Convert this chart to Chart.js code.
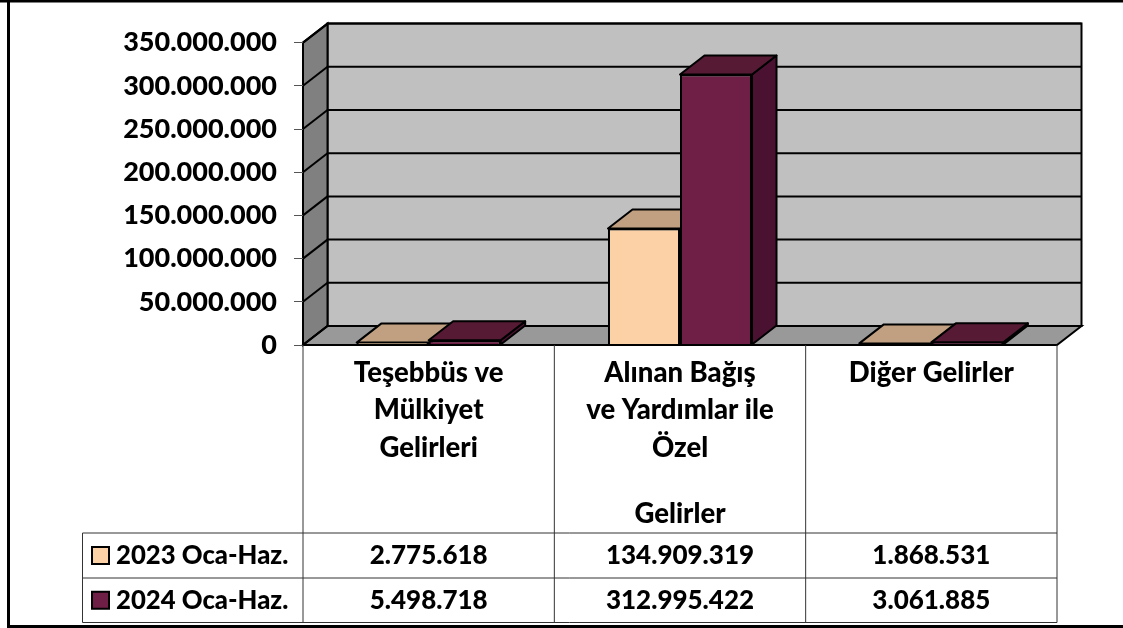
<!DOCTYPE html>
<html lang="tr">
<head>
<meta charset="utf-8">
<title>Gelirler</title>
<script src="https://cdn.jsdelivr.net/npm/chart.js@4"></script>
<style>
  body { margin: 0; background: #fff; }
  canvas { display: block; }
</style>
</head>
<body>
<canvas id="gelirChart" width="1123" height="628"></canvas>
<script>
const categories = [
  ["Teşebbüs ve", "Mülkiyet", "Gelirleri"],
  ["Alınan Bağış", "ve Yardımlar ile", "Özel"],
  ["Diğer Gelirler"]
];
// the second label has one line pushed down to the foot of its cell
const categoryFootLines = ["", "Gelirler", ""];
const seriesNames = ["2023 Oca-Haz.", "2024 Oca-Haz."];
const values2023 = [2775618, 134909319, 1868531];
const values2024 = [5498718, 312995422, 3061885];

const seriesColors = ["#fcd1a5", "#6f1f45"];
const topColors = ["#c0a080", "#561a35"];
const sideColors = ["#a88a6c", "#4a1230"];

// how far the back wall sits from the front of the box
const depthX = 24.5;
const depthY = 19;
const FONT = "Lato, sans-serif";

function poly(c, pts, fill) {
  c.beginPath();
  pts.forEach((p, i) => i ? c.lineTo(p[0], p[1]) : c.moveTo(p[0], p[1]));
  c.closePath();
  if (fill) { c.fillStyle = fill; c.fill(); }
  c.stroke();
}

function line(c, x1, y1, x2, y2) {
  c.beginPath();
  c.moveTo(x1, y1);
  c.lineTo(x2, y2);
  c.stroke();
}

const walls = {
  id: "walls",
  beforeDraw(chart) {
    const c = chart.ctx;
    const { left, right, top, bottom } = chart.chartArea;
    c.save();
    c.strokeStyle = "#000";
    c.lineWidth = 2;
    // back wall, side wall, floor
    poly(c, [[left + depthX, top - depthY], [right + depthX, top - depthY], [right + depthX, bottom - depthY], [left + depthX, bottom - depthY]], "#c0c0c0");
    poly(c, [[left, top], [left + depthX, top - depthY], [left + depthX, bottom - depthY], [left, bottom]], "#808080");
    poly(c, [[left, bottom], [left + depthX, bottom - depthY], [right + depthX, bottom - depthY], [right, bottom]], "#999999");
    // gridlines run along the side wall and across the back
    chart.scales.y.ticks.forEach(t => {
      const y = chart.scales.y.getPixelForValue(t.value);
      line(c, left, y, left + depthX, y - depthY);
      line(c, left + depthX, y - depthY, right + depthX, y - depthY);
    });
    c.restore();
  },
  beforeDatasetsDraw(chart) {
    const c = chart.ctx;
    c.save();
    c.strokeStyle = "#000";
    c.lineWidth = 2;
    c.lineJoin = "round";
    chart.data.datasets.forEach((ds, i) => {
      chart.getDatasetMeta(i).data.forEach(bar => {
        const l = bar.x - bar.width / 2;
        const r = bar.x + bar.width / 2;
        poly(c, [[r, bar.y], [r + depthX, bar.y - depthY], [r + depthX, bar.base - depthY], [r, bar.base]], sideColors[i]);
        poly(c, [[l, bar.y], [l + depthX, bar.y - depthY], [r + depthX, bar.y - depthY], [r, bar.y]], topColors[i]);
      });
    });
    c.restore();
  }
};

const dataTable = {
  id: "dataTable",
  afterDraw(chart) {
    const c = chart.ctx;
    const { left, right, bottom } = chart.chartArea;
    const rowLines = [533, 578, 622.5];
    const legendLeft = 82.5;
    const catW = (right - left) / categories.length;
    c.save();

    c.strokeStyle = "#000";
    c.lineWidth = 2;
    line(c, left, bottom, right, bottom);

    c.strokeStyle = "#333";
    c.lineWidth = 1;
    for (let i = 0; i <= categories.length; i++) {
      const x = left + i * catW;
      line(c, x, bottom, x, rowLines[2]);
    }
    rowLines.forEach(y => line(c, legendLeft, y, right, y));
    line(c, legendLeft, rowLines[0], legendLeft, rowLines[2]);

    c.textBaseline = "middle";
    c.fillStyle = "#000";
    c.textAlign = "center";
    c.font = "900 27.5px " + FONT;
    categoryFootLines.forEach((t, j) => {
      if (t) c.fillText(t, left + (j + 0.5) * catW, 514);
    });

    chart.data.datasets.forEach((ds, i) => {
      const mid = (rowLines[i] + rowLines[i + 1]) / 2;
      // legend swatch and series name
      c.strokeStyle = "#000";
      c.lineWidth = 2;
      c.fillStyle = seriesColors[i];
      c.fillRect(92, mid - 8.5, 17, 17);
      c.strokeRect(92, mid - 8.5, 17, 17);
      c.fillStyle = "#000";
      c.textAlign = "left";
      c.font = "900 25.7px " + FONT;
      c.fillText(ds.label, 116, mid);
      // values
      c.textAlign = "center";
      c.font = "900 26px " + FONT;
      ds.data.forEach((v, j) => {
        c.fillText(v.toLocaleString("tr-TR"), left + (j + 0.5) * catW, mid);
      });
    });

    // outer frame of the picture
    c.fillRect(0, 0, 1123, 2.5);
    c.fillRect(7, 0, 3, 628);
    c.fillRect(7, 625, 1116, 3);
    c.restore();
  }
};

new Chart(document.getElementById("gelirChart"), {
  type: "bar",
  data: {
    labels: categories,
    datasets: [
      { label: seriesNames[0], data: values2023, backgroundColor: seriesColors[0] },
      { label: seriesNames[1], data: values2024, backgroundColor: seriesColors[1] }
    ]
  },
  options: {
    responsive: false,
    animation: false,
    layout: { padding: { top: 42.6, right: 66, bottom: 95, left: 0 } },
    datasets: {
      bar: {
        categoryPercentage: 0.573,
        barPercentage: 1,
        borderColor: "#000",
        borderWidth: 2,
        clip: false
      }
    },
    plugins: {
      legend: { display: false },
      tooltip: { enabled: false }
    },
    scales: {
      x: {
        afterFit: s => { s.height = 188; },
        border: { display: false },
        grid: { display: false },
        ticks: {
          autoSkip: false,
          maxRotation: 0,
          padding: 1,
          color: "#000",
          font: { family: FONT, size: 27.5, weight: "900", lineHeight: 1.364 }
        }
      },
      y: {
        min: 0,
        max: 350000000,
        afterFit: s => { s.width = 303; },
        border: { display: false },
        grid: { drawOnChartArea: false, tickLength: 9, color: "#555", lineWidth: 1 },
        ticks: {
          stepSize: 50000000,
          padding: 17,
          color: "#000",
          font: { family: FONT, size: 27, weight: "900" },
          callback: v => v.toLocaleString("tr-TR")
        }
      }
    }
  },
  plugins: [walls, dataTable]
});
</script>
</body>
</html>
